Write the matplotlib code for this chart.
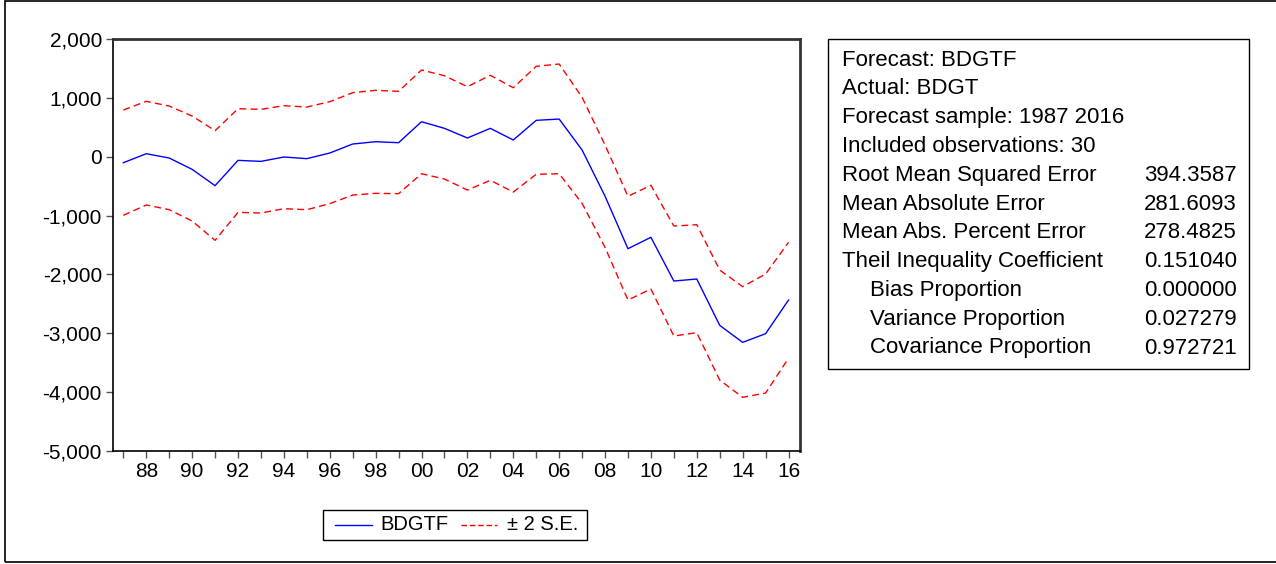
import matplotlib
matplotlib.use("Agg")
import matplotlib.pyplot as plt
from matplotlib.patches import Rectangle
from matplotlib.lines import Line2D

plt.rcParams['font.family'] = ['Liberation Sans', 'DejaVu Sans']

years = list(range(1987, 2017))
forecast = [-102, 51, -22, -215, -492, -62, -79, -5, -33, 63,
            216, 255, 238, 595, 482, 318, 482, 284, 618, 640,
            114, -670, -1563, -1369, -2112, -2078, -2865, -3154, -3007, -2435]
upper = [793, 941, 861, 691, 442, 815, 805, 866, 844, 935,
         1088, 1128, 1111, 1473, 1376, 1190, 1383, 1172, 1536, 1575,
         1009, 199, -673, -486, -1178, -1155, -1925, -2208, -1993, -1454]
lower = [-996, -820, -900, -1092, -1421, -945, -957, -883, -900, -798,
         -651, -622, -628, -289, -379, -566, -401, -600, -299, -289,
         -792, -1540, -2435, -2248, -3046, -2990, -3794, -4088, -4015, -3425]

y_ticks = [2000, 1000, 0, -1000, -2000, -3000, -4000, -5000]
x_label_years = list(range(1988, 2017, 2))

stat_names = ["Forecast: BDGTF", "Actual: BDGT", "Forecast sample: 1987 2016",
              "Included observations: 30", "Root Mean Squared Error",
              "Mean Absolute Error", "Mean Abs. Percent Error",
              "Theil Inequality Coefficient", "Bias Proportion",
              "Variance Proportion", "Covariance Proportion"]
stat_values = ["", "", "", "", "394.3587", "281.6093", "278.4825",
               "0.151040", "0.000000", "0.027279", "0.972721"]
stat_indent = [False] * 8 + [True] * 3

W, H = 1276, 564
fig = plt.figure(figsize=(W / 100, H / 100), dpi=100)

# outer frame
fig.add_artist(Rectangle((5 / W, 0.003), 1.2, 1 - 3 / H, transform=fig.transFigure,
                         fill=False, edgecolor='black', linewidth=1.2))

ax = fig.add_axes([113 / W, 1 - 451 / H, (800 - 113) / W, (451 - 39) / H])
ax.plot(years, forecast, color='#0000ff', linewidth=1.0)
ax.plot(years, upper, color='#ff0000', linewidth=1.0, linestyle=(0, (5, 3)))
ax.plot(years, lower, color='#ff0000', linewidth=1.0, linestyle=(0, (5, 3)))

ax.set_xlim(1986.55, 2016.5)
ax.set_ylim(-5000, 2000)
ax.set_yticks(y_ticks)
ax.set_yticklabels([f"{v:,}" for v in y_ticks], fontsize=15)
ax.set_xticks(years)
ax.set_xticklabels([f"{y % 100:02d}" if y in x_label_years else "" for y in years],
                   fontsize=15)
ax.tick_params(axis='both', direction='out', length=5, width=1, color='#555555', pad=3)
for side in ['left', 'bottom']:
    ax.spines[side].set_color('black')
    ax.spines[side].set_linewidth(1.2)
for side in ['top', 'right']:
    ax.spines[side].set_color('#333333')
    ax.spines[side].set_linewidth(2)

# stats box
fig.add_artist(Rectangle((828 / W, 1 - 369 / H), (1249 - 828) / W, (369 - 39) / H,
                         transform=fig.transFigure, fill=False, edgecolor='black',
                         linewidth=1))
y0 = 60
dy = 28.8
for i, (name, val, ind) in enumerate(zip(stat_names, stat_values, stat_indent)):
    yy = 1 - (y0 + i * dy) / H
    fig.text((870 if ind else 842) / W, yy, name, fontsize=16, va='center', ha='left')
    if val:
        fig.text(1237 / W, yy, val, fontsize=16, va='center', ha='right')

# legend
fig.add_artist(Rectangle((323 / W, 1 - 540 / H), (587 - 323) / W, 30 / H,
                         transform=fig.transFigure, fill=False, edgecolor='black',
                         linewidth=1))
ly = 1 - 525 / H
fig.add_artist(Line2D([335 / W, 372 / W], [ly, ly], transform=fig.transFigure,
                      color='#0000ff', linewidth=1))
fig.text(380 / W, ly, "BDGTF", fontsize=14.5, va='center', ha='left')
fig.add_artist(Line2D([461 / W, 497 / W], [ly, ly], transform=fig.transFigure,
                      color='#ff0000', linewidth=1, linestyle=(0, (4, 2))))
fig.text(507 / W, ly, "± 2 S.E.", fontsize=14.5, va='center', ha='left')

fig.savefig("out.png", dpi=100)
